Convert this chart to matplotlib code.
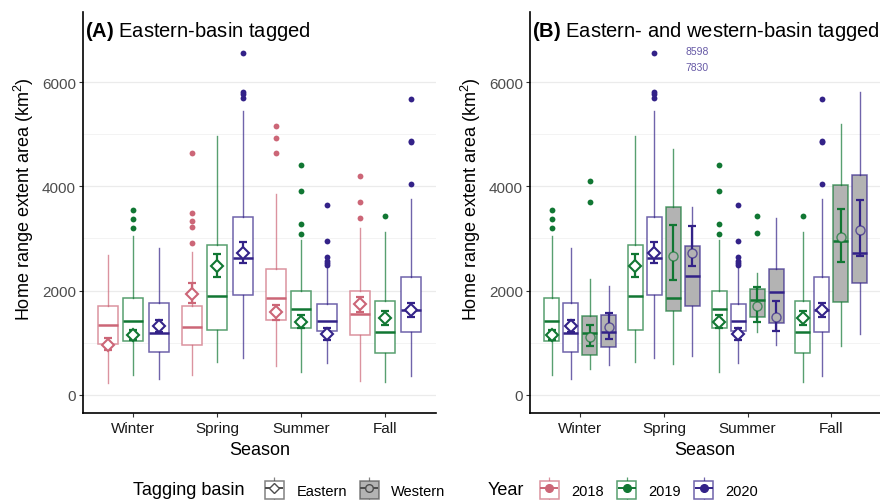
import matplotlib
matplotlib.use('Agg')
import matplotlib.pyplot as plt
from matplotlib.colors import to_rgba
from matplotlib.lines import Line2D
from matplotlib.patches import Rectangle
from matplotlib.legend_handler import HandlerTuple

plt.rcParams['font.family'] = ['Liberation Sans', 'DejaVu Sans']
plt.rcParams['mathtext.fontset'] = 'custom'
plt.rcParams['mathtext.rm'] = 'Liberation Sans'
plt.rcParams['mathtext.bf'] = 'Liberation Sans:bold'
plt.rcParams['mathtext.default'] = 'regular'

seasons = ['Winter', 'Spring', 'Summer', 'Fall']
c2018, c2019, c2020 = '#CC6677', '#117733', '#332288'
west_fill = '#B3B3B3'

# per season: [whisker low, Q1, median, Q3, whisker high]
east_2018_box = [[223, 975, 1344, 1707, 2675], [376, 962, 1293, 1701, 2745],
                 [554, 1433, 1854, 2414, 3860], [255, 1147, 1554, 1994, 3204]]
east_2018_out = [[], [2905, 3223, 3338, 3484, 4637], [4644, 4918, 5160], [3382, 3701, 4204]]
east_2018_mean = [962, 1936, 1580, 1739]
east_2018_ci = [[860, 1083], [1752, 2147], [1440, 1726], [1592, 1879]]

east_2019_box = [[376, 1026, 1420, 1854, 3039], [637, 1249, 1898, 2879, 4962],
                 [433, 1274, 1650, 1994, 2962], [242, 796, 1210, 1803, 3121]]
east_2019_out = [[3204, 3370, 3548], [], [3083, 3281, 3918, 4402], [3427]]
east_2019_mean = [1147, 2465, 1395, 1471]
east_2019_ci = [[1057, 1249], [2268, 2694], [1274, 1522], [1344, 1599]]

east_2020_box = [[306, 828, 1191, 1752, 2822], [707, 1911, 2624, 3408, 5446],
                 [605, 1229, 1414, 1739, 2440], [363, 1198, 1624, 2268, 3765]]
east_2020_out = [[], [5701, 5765, 5816, 6559], [2490, 2530, 2560, 2640, 2943, 3644],
                 [4039, 4841, 4867, 5676]]
east_2020_mean = [1312, 2714, 1159, 1631]
east_2020_ci = [[1210, 1427], [2523, 2937], [1051, 1274], [1497, 1758]]

west_2019_box = [[490, 764, 1185, 1503, 2217], [592, 1605, 1860, 3612, 4714],
                 [1210, 1497, 1822, 2038, 2344], [930, 1777, 2943, 4032, 5191]]
west_2019_out = [[3707, 4096], [], [3096, 3427], []]
west_2019_mean = [1115, 2669, 1694, 3019]
west_2019_ci = [[930, 1338], [2204, 3249], [1389, 2064], [2554, 3561]]

west_2020_box = [[580, 917, 1204, 1535, 2089], [752, 1701, 2280, 2854, 3605],
                 [955, 1376, 1968, 2414, 3395], [1159, 2140, 2726, 4217, 5803]]
west_2020_out = [[], [], [], []]
west_2020_mean = [1300, 2714, 1484, 3166]
west_2020_ci = [[1077, 1567], [2472, 3230], [1223, 1790], [2656, 3745]]
west_2020_offscale = [[], [8598, 7830], [], []]


def draw_group(ax, box, out, mean, ci, color, offset, width, fill, marker):
    x = [i + 1 + offset for i in range(len(box))]
    stats = [dict(whislo=b[0], q1=b[1], med=b[2], q3=b[3], whishi=b[4], fliers=o)
             for b, o in zip(box, out)]
    light = to_rgba(color, 0.7)
    ax.bxp(stats, positions=x, widths=width, patch_artist=True, showcaps=False,
           manage_ticks=False, zorder=2,
           boxprops=dict(facecolor=fill, edgecolor=light, linewidth=1.1),
           whiskerprops=dict(color=light, linewidth=1.0),
           medianprops=dict(color=color, linewidth=1.8),
           flierprops=dict(marker='o', markerfacecolor=color, markeredgecolor='none',
                           markersize=4.2))
    lo = [m - c[0] for m, c in zip(mean, ci)]
    hi = [c[1] - m for m, c in zip(mean, ci)]
    ax.errorbar(x, mean, yerr=[lo, hi], fmt='none', ecolor=color, elinewidth=1.6,
                capsize=2.6, capthick=1.6, zorder=3)
    if marker == 'D':
        ax.plot(x, mean, ls='none', marker='D', ms=6, mfc='white', mec=color, mew=1.5, zorder=4)
    else:
        ax.plot(x, mean, ls='none', marker='o', ms=6.5, mfc=west_fill, mec=light, mew=1.0, zorder=4)
    return x


def style_axes(ax, title, xmax):
    ax.set_xlim(0.4, xmax)
    ax.set_ylim(-350, 7350)
    ax.set_xticks(range(1, 5))
    ax.set_xticklabels(seasons, fontsize=11, color='#1A1A1A')
    ax.set_yticks([0, 2000, 4000, 6000])
    ax.set_yticks([1000, 3000, 5000], minor=True)
    ax.tick_params(axis='y', labelsize=11, labelcolor='#4D4D4D', length=3, width=0.8,
                   color='#333333', pad=2)
    ax.tick_params(axis='x', length=3, width=0.8, color='#333333', pad=3)
    ax.tick_params(axis='y', which='minor', length=0)
    ax.grid(axis='y', which='major', color='#EBEBEB', lw=0.9)
    ax.grid(axis='y', which='minor', color='#F3F3F3', lw=0.7)
    ax.set_axisbelow(True)
    for s in ['top', 'right']:
        ax.spines[s].set_visible(False)
    for s in ['left', 'bottom']:
        ax.spines[s].set_linewidth(1.2)
    ax.set_xlabel('Season', fontsize=13)
    ax.set_ylabel('Home range extent area (km$^2$)', fontsize=13)
    ax.text(0.006, 0.953, title, transform=ax.transAxes, fontsize=14.5, va='center', ha='left')


fig = plt.figure(figsize=(8.8, 5.02), dpi=100)
axA = fig.add_axes([83 / 880, 88 / 502, 352.8 / 880, 401.3 / 502])
axB = fig.add_axes([530 / 880, 88 / 502, 350 / 880, 401.3 / 502])

# panel A: eastern-basin tagged, three years dodged
draw_group(axA, east_2018_box, east_2018_out, east_2018_mean, east_2018_ci, c2018, -0.30, 0.24, 'white', 'D')
draw_group(axA, east_2019_box, east_2019_out, east_2019_mean, east_2019_ci, c2019, 0.0, 0.24, 'white', 'D')
draw_group(axA, east_2020_box, east_2020_out, east_2020_mean, east_2020_ci, c2020, 0.30, 0.24, 'white', 'D')
style_axes(axA, r'$\mathbf{(A)}$ Eastern-basin tagged', 4.6)

# panel B: eastern and western tagged, 2019 and 2020
draw_group(axB, east_2019_box, east_2019_out, east_2019_mean, east_2019_ci, c2019, -0.34, 0.18, 'white', 'D')
draw_group(axB, east_2020_box, east_2020_out, east_2020_mean, east_2020_ci, c2020, -0.113, 0.18, 'white', 'D')
draw_group(axB, west_2019_box, west_2019_out, west_2019_mean, west_2019_ci, c2019, 0.113, 0.18, west_fill, 'o')
wx = draw_group(axB, west_2020_box, west_2020_out, west_2020_mean, west_2020_ci, c2020, 0.34, 0.18, west_fill, 'o')
for xi, vals in zip(wx, west_2020_offscale):
    for k, v in enumerate(vals):
        axB.text(xi + 0.06, 6600 - 310 * k, str(v), fontsize=7.5, ha='center', va='center',
                 color=to_rgba(c2020, 0.75))
style_axes(axB, r'$\mathbf{(B)}$ Eastern- and western-basin tagged', 0.4 + 350 / 83.7)

for ax, left, label_x in [(axA, 83, 24), (axB, 530, 471)]:
    w = ax.get_position().width * 880
    ax.yaxis.set_label_coords(-(left - label_x) / w, 0.535)
    ax.yaxis.label.set_va('center')
    ax.xaxis.set_label_coords(0.5, -0.09)
    ax.xaxis.label.set_va('center')


def key(color, fill, marker, mfc):
    light = to_rgba(color, 0.7)
    return (Line2D([], [], ls='none', marker='|', ms=16, mew=0.9, color=light),
            Rectangle((0, 0), 1, 1, fc=fill, ec=light, lw=1.1),
            Line2D([], [], ls='none', marker='_', ms=13.5, mew=1.4, color=color),
            Line2D([], [], ls='none', marker=marker, ms=5.5, mfc=mfc, mec=color, mew=1.0))


leg_kw = dict(loc='center left', frameon=False, fontsize=10.5, numpoints=1,
              handlelength=1.3, handleheight=1.6, handletextpad=0.85, columnspacing=0.9,
              borderpad=0, borderaxespad=0,
              handler_map={tuple: HandlerTuple(ndivide=1, pad=0)})

basin_handles = [key('#4D4D4D', 'white', 'D', 'white'), key('#4D4D4D', west_fill, 'o', west_fill)]
fig.legend(basin_handles, ['Eastern', 'Western'], ncol=2,
           bbox_to_anchor=(265 / 880, 11 / 502), **leg_kw)
year_handles = [key(c, 'white', 'o', c) for c in (c2018, c2019, c2020)]
fig.legend(year_handles, ['2018', '2019', '2020'], ncol=3,
           bbox_to_anchor=(540 / 880, 11 / 502), **leg_kw)
fig.text(133 / 880, 11 / 502, 'Tagging basin', fontsize=13, va='center', ha='left')
fig.text(488 / 880, 11 / 502, 'Year', fontsize=13, va='center', ha='left')

fig.savefig('out.png', dpi=100)
